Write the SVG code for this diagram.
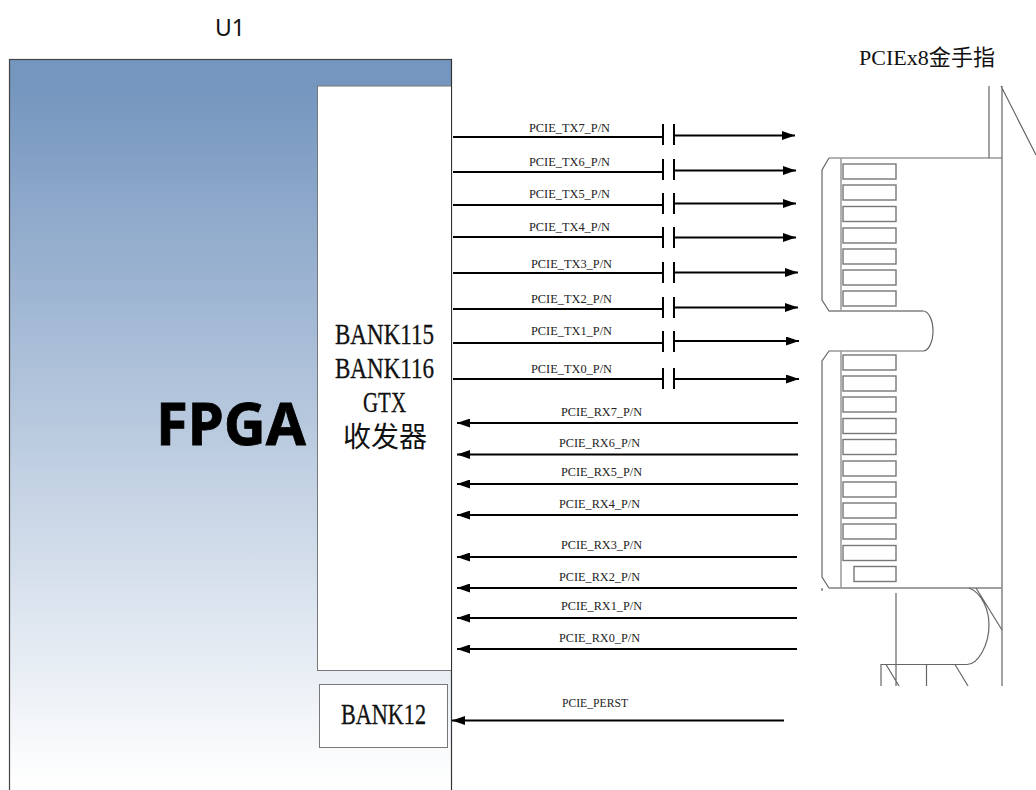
<svg xmlns="http://www.w3.org/2000/svg" width="1036" height="790" viewBox="0 0 1036 790">
<defs>
<linearGradient id="fade" gradientUnits="userSpaceOnUse" x1="0" y1="85" x2="0" y2="785"><stop offset="0" stop-color="#7596bf"/><stop offset="1" stop-color="#ffffff"/></linearGradient>
<marker id="ah" markerUnits="userSpaceOnUse" markerWidth="13" markerHeight="9" refX="13" refY="4.5" orient="auto"><path d="M0 0L13 4.500L0 9Z" fill="#000"/></marker>
</defs>
<style>
.w{stroke:#000;stroke-width:2;fill:none}
.a{stroke:#000;stroke-width:2;fill:none;marker-end:url(#ah)}
.c{stroke:#000;stroke-width:2}
.s{font-family:"Liberation Serif","Noto Sans CJK SC",serif;fill:#111}
.l{font-size:13px;fill:#222}
.b{font-size:29px;stroke:#111;stroke-width:.3}
.p{stroke:#777;stroke-width:1.4;fill:#fff}
.o{stroke:#666;stroke-width:1.2;fill:none}
</style>
<text x="230" y="36" text-anchor="middle" font-family="Noto Sans,sans-serif" font-size="23" fill="#111">U1</text>
<g id="fpga">
<rect x="9.500" y="59.500" width="442" height="740" fill="url(#fade)" stroke="#444" stroke-width="1.200"/>
<text x="156" y="445" font-family="Noto Sans,sans-serif" font-weight="700" font-size="60" fill="#000" stroke="#000" stroke-width="0.800" textLength="150" lengthAdjust="spacingAndGlyphs">FPGA</text>
</g>
<g id="bank115">
<rect x="317.500" y="86" width="134" height="584.500" fill="#fff" stroke="#777" stroke-width="1"/>
<text class="s b" x="335" y="343.500" textLength="99" lengthAdjust="spacingAndGlyphs">BANK115</text>
<text class="s b" x="335" y="378" textLength="99" lengthAdjust="spacingAndGlyphs">BANK116</text>
<text class="s b" x="363" y="412" textLength="43" lengthAdjust="spacingAndGlyphs">GTX</text>
<text class="s" x="343" y="447" font-size="28">收发器</text>
</g>
<line x1="451.500" y1="59" x2="451.500" y2="790" stroke="#333" stroke-width="1"/>
<g id="bank12">
<rect x="319.500" y="684.500" width="128" height="63" fill="#fff" stroke="#777" stroke-width="1"/>
<text class="s b" x="341" y="724" textLength="85" lengthAdjust="spacingAndGlyphs">BANK12</text>
</g>
<g id="connectors">
<path class="w" d="M453 137H663M453 172H663M453 205H663M453 237H663M453 273H663M453 309H663M453 343H663M453 379H663"/>
<path class="c" d="M663 124V145M674 124V145M663 159V180M674 159V180M663 193V214M674 193V214M663 227V248M674 227V248M663 262V283M674 262V283M663 297V318M674 297V318M663 331V352M674 331V352M663 368V389M674 368V389"/>
<path class="a" d="M675 135.500H795"/>
<path class="a" d="M675 170.500H796"/>
<path class="a" d="M675 203.500H796"/>
<path class="a" d="M675 237.500H796"/>
<path class="a" d="M675 272.500H798"/>
<path class="a" d="M675 307.500H798"/>
<path class="a" d="M675 341H799"/>
<path class="a" d="M675 379H799"/>
<path class="a" d="M798 423H457"/>
<path class="a" d="M798 454.500H457"/>
<path class="a" d="M798 484H457"/>
<path class="a" d="M798 515H457"/>
<path class="a" d="M797 557H457"/>
<path class="a" d="M797 588H457"/>
<path class="a" d="M797 618H457"/>
<path class="a" d="M797 649H457"/>
<path class="a" d="M784 720.500H452"/>
</g>
<g id="labels">
<text class="s l" x="529" y="132" textLength="81" lengthAdjust="spacingAndGlyphs">PCIE_TX7_P/N</text>
<text class="s l" x="529" y="166" textLength="81" lengthAdjust="spacingAndGlyphs">PCIE_TX6_P/N</text>
<text class="s l" x="529" y="198" textLength="81" lengthAdjust="spacingAndGlyphs">PCIE_TX5_P/N</text>
<text class="s l" x="529" y="231" textLength="81" lengthAdjust="spacingAndGlyphs">PCIE_TX4_P/N</text>
<text class="s l" x="531" y="268" textLength="81" lengthAdjust="spacingAndGlyphs">PCIE_TX3_P/N</text>
<text class="s l" x="531" y="303" textLength="81" lengthAdjust="spacingAndGlyphs">PCIE_TX2_P/N</text>
<text class="s l" x="531" y="335" textLength="81" lengthAdjust="spacingAndGlyphs">PCIE_TX1_P/N</text>
<text class="s l" x="531" y="373" textLength="81" lengthAdjust="spacingAndGlyphs">PCIE_TX0_P/N</text>
<text class="s l" x="561" y="416" textLength="81" lengthAdjust="spacingAndGlyphs">PCIE_RX7_P/N</text>
<text class="s l" x="559" y="447" textLength="81" lengthAdjust="spacingAndGlyphs">PCIE_RX6_P/N</text>
<text class="s l" x="561" y="476" textLength="81" lengthAdjust="spacingAndGlyphs">PCIE_RX5_P/N</text>
<text class="s l" x="559" y="508" textLength="81" lengthAdjust="spacingAndGlyphs">PCIE_RX4_P/N</text>
<text class="s l" x="561" y="549" textLength="81" lengthAdjust="spacingAndGlyphs">PCIE_RX3_P/N</text>
<text class="s l" x="559" y="581" textLength="81" lengthAdjust="spacingAndGlyphs">PCIE_RX2_P/N</text>
<text class="s l" x="561" y="610" textLength="81" lengthAdjust="spacingAndGlyphs">PCIE_RX1_P/N</text>
<text class="s l" x="559" y="642" textLength="81" lengthAdjust="spacingAndGlyphs">PCIE_RX0_P/N</text>
<text class="s l" x="562" y="707" textLength="66" lengthAdjust="spacingAndGlyphs">PCIE_PERST</text>
</g>
<g id="pcie-connector">
<text class="s" x="859" y="65" font-size="22" textLength="136" lengthAdjust="spacingAndGlyphs">PCIEx8金手指</text>
<path class="o" d="M1002 86V686M989 86V158M1001 86L1036 155"/>
<path class="o" d="M829 158H1002M829 158L822 170V300L829 311H923A10 20 0 0 1 923 351H829L822 361V577L829 588H1002"/>
<path d="M841 158V311M841 351V588" stroke="#999" stroke-width="1.500" fill="none"/>
<path d="M829 311H923M829 588H1002" stroke="#999" stroke-width="1.500" fill="none"/>
<rect class="p" x="843" y="164" width="53" height="15"/>
<rect class="p" x="843" y="185" width="53" height="15"/>
<rect class="p" x="843" y="206.500" width="53" height="15"/>
<rect class="p" x="843" y="228" width="53" height="15"/>
<rect class="p" x="843" y="249" width="53" height="15"/>
<rect class="p" x="843" y="270" width="53" height="15"/>
<rect class="p" x="843" y="291" width="53" height="15"/>
<rect class="p" x="843" y="355" width="53" height="15"/>
<rect class="p" x="843" y="376" width="53" height="15"/>
<rect class="p" x="843" y="397" width="53" height="15"/>
<rect class="p" x="843" y="418.500" width="53" height="15"/>
<rect class="p" x="843" y="439.500" width="53" height="15"/>
<rect class="p" x="843" y="461" width="53" height="15"/>
<rect class="p" x="843" y="482" width="53" height="15"/>
<rect class="p" x="843" y="503" width="53" height="15"/>
<rect class="p" x="843" y="524" width="53" height="15"/>
<rect class="p" x="843" y="545.500" width="53" height="15"/>
<rect class="p" x="854" y="566.500" width="42" height="15"/>
<path class="o" d="M822 588V591M896 593V686M969 588C982 593 989 610 989 625C989 645 978 664.500 967 664.500H881V686M926.500 664.500V686M886 664.500L899 686M955 664.500L968 686M976 588L1002 630"/>
</g>
</svg>
